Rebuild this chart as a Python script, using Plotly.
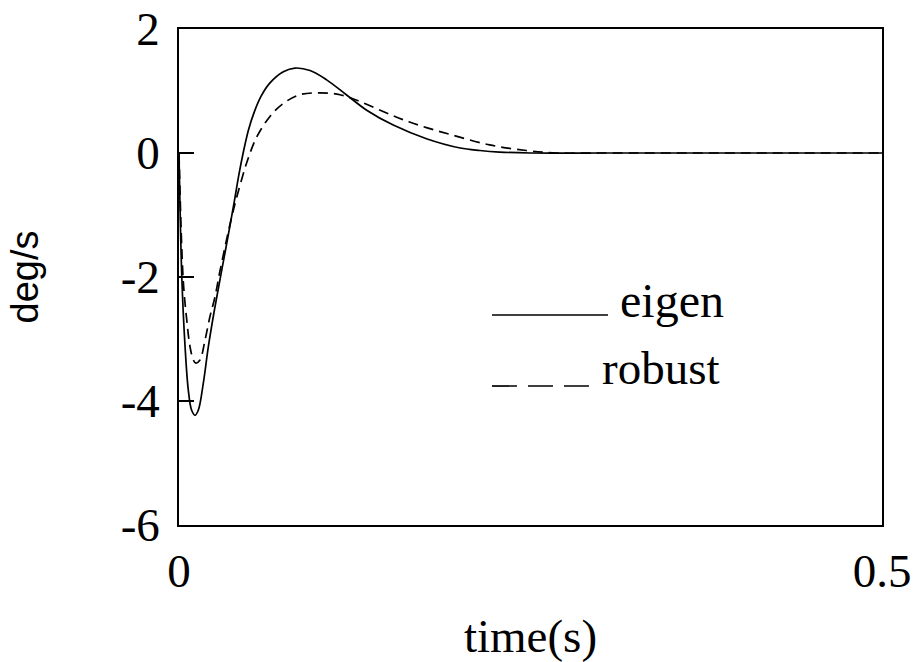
import plotly.graph_objects as go

# ---- data ----
eigen_t = [0, 0.002, 0.0043, 0.0066, 0.009, 0.0114, 0.0137, 0.0173, 0.0209, 0.0256,
           0.0304, 0.035, 0.0395, 0.0425, 0.046, 0.0495, 0.0535, 0.0585, 0.0647, 0.0742,
           0.0825, 0.0932, 0.105, 0.119, 0.1335, 0.1524, 0.176, 0.2, 0.214, 0.228,
           0.25, 0.3, 0.4, 0.5]
eigen_v = [0, -2.0, -3.12, -3.82, -4.15, -4.23, -4.15, -3.71, -3.12, -2.48,
           -1.89, -1.33, -0.76, -0.36, 0.04, 0.38, 0.66, 0.92, 1.13, 1.31,
           1.37, 1.33, 1.18, 0.94, 0.69, 0.45, 0.23, 0.08, 0.04, 0.015,
           0, 0, 0, 0]

robust_t = [0, 0.003, 0.0055, 0.0078, 0.0102, 0.012, 0.0149, 0.0185, 0.022, 0.0256,
            0.029, 0.0375, 0.0434, 0.049, 0.0553, 0.0647, 0.0742, 0.086, 0.1, 0.1145,
            0.1287, 0.1524, 0.164, 0.176, 0.1927, 0.221, 0.247, 0.2686, 0.3, 0.4, 0.5]
robust_v = [0, -2.05, -2.69, -3.12, -3.34, -3.39, -3.34, -3.02, -2.64, -2.32,
            -1.92, -1.03, -0.52, -0.1, 0.26, 0.59, 0.80, 0.94, 0.97, 0.94,
            0.83, 0.60, 0.50, 0.41, 0.30, 0.13, 0.04, 0.0, 0, 0, 0]

x_ticks = [0, 0.5]
x_tick_labels = ["0", "0.5"]
y_ticks = [2, 0, -2, -4, -6]
y_tick_labels = ["2", "0", "-2", "-4", "-6"]

SERIF = "Liberation Serif, Times New Roman, serif"
SANS = "Liberation Sans, Arial, sans-serif"

fig = go.Figure()
fig.add_trace(go.Scatter(x=eigen_t, y=eigen_v, mode="lines", name="eigen",
                         line=dict(color="black", width=1.7, shape="spline", smoothing=1.0),
                         showlegend=False))
fig.add_trace(go.Scatter(x=robust_t, y=robust_v, mode="lines", name="robust",
                         line=dict(color="black", width=1.7, dash="10px,6px",
                                   shape="spline", smoothing=1.0),
                         showlegend=False))

# legend drawn manually (long line samples, text to the right)
fig.add_shape(type="line", xref="paper", yref="paper", x0=0.4452, x1=0.6102,
              y0=0.4234, y1=0.4234, line=dict(color="black", width=1.7))
fig.add_shape(type="line", xref="paper", yref="paper", x0=0.4452, x1=0.5832,
              y0=0.2802, y1=0.2802, line=dict(color="black", width=1.7, dash="25px,11px"))
fig.add_annotation(xref="paper", yref="paper", x=0.6245, y=0.4536, text="eigen",
                   showarrow=False, xanchor="left", yanchor="middle",
                   font=dict(family=SERIF, size=48, color="black"))
fig.add_annotation(xref="paper", yref="paper", x=0.599, y=0.3165, text="robust",
                   showarrow=False, xanchor="left", yanchor="middle",
                   font=dict(family=SERIF, size=47, color="black"))

fig.update_layout(
    width=916, height=662,
    margin=dict(l=179, r=34, t=29, b=137),
    paper_bgcolor="white", plot_bgcolor="white",
    xaxis=dict(range=[0, 0.5], tickvals=x_ticks, ticktext=x_tick_labels,
               showgrid=False, zeroline=False, showline=True, mirror=True,
               linecolor="black", linewidth=1.6, ticks="", automargin=False,
               tickfont=dict(family=SERIF, size=47, color="black"),
               ticklabelstandoff=4,
               title=dict(text="time(s)", font=dict(family=SERIF, size=47, color="black"),
                          standoff=24)),
    yaxis=dict(range=[-6, 2], tickvals=y_ticks, ticktext=y_tick_labels,
               showgrid=False, zeroline=False, showline=True, mirror=True,
               linecolor="black", linewidth=1.6, ticks="inside", ticklen=15,
               tickwidth=1.6, tickcolor="black", automargin=False,
               tickfont=dict(family=SERIF, size=47, color="black"),
               ticklabelstandoff=8,
               title=dict(text="deg/s", font=dict(family=SANS, size=38, color="black"),
                          standoff=70)),
)

fig.write_html("out.html")
